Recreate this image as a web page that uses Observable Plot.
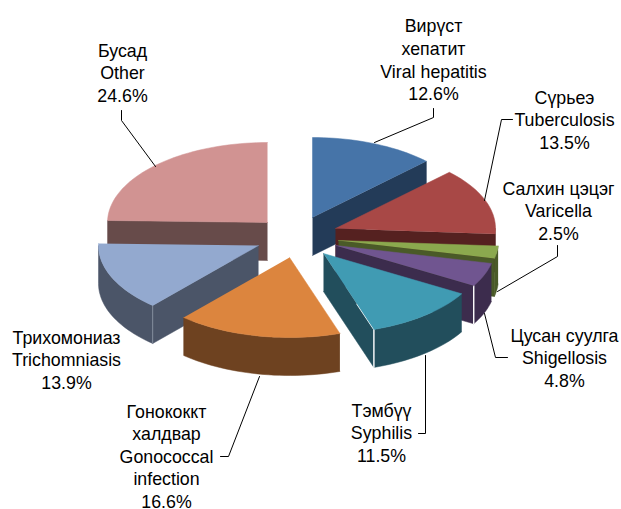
<!DOCTYPE html>
<html><head><meta charset="utf-8">
<style>html,body{margin:0;padding:0;background:#fff}svg{display:block}</style>
<script src="https://cdn.jsdelivr.net/npm/d3@7"></script>
<script src="https://cdn.jsdelivr.net/npm/@observablehq/plot@0.6"></script>
</head><body>
<script>
// Data, clockwise from 12 o'clock
const shares = [12.6,13.5,2.5,4.8,11.5,16.6,13.9,24.6];
const labels = [
  "Вирүст\nхепатит\nViral hepatitis\n12.6%",
  "Сүрьеэ\nTuberculosis\n13.5%",
  "Салхин цэцэг\nVaricella\n2.5%",
  "Цусан суулга\nShigellosis\n4.8%",
  "Тэмбүү\nSyphilis\n11.5%",
  "Гонококкт\nхалдвар\nGonococcal\ninfection\n16.6%",
  "Трихомониаз\nTrichomniasis\n13.9%",
  "Бусад\nOther\n24.6%"
];
const topColors  = ["#4674A8","#A84846","#8BA94E","#705590","#409BB3","#DC853E","#93A9CF","#D19392"];
const wallColors = ["#233B58","#552120","#4A5A28","#3C2C4D","#224E5C","#6E4220","#4B5568","#674B4A"];

// Layout of the exploded 3-D pie
const rx = 160, ry = 80, depth = 38;
const apexX = [312,335,338,335,323,289,258,267];
const apexY = [217,228,240,245,253,257,245,222];
const labelX = [433,564,558,564,381,166,66,122];
const labelY = [58.5,118.5,209.5,356.5,431.5,455,358.5,71.5];
const leaders = [
  [[433,108],[433,117],[374,142]],
  [[512,119],[501,119],[484,200]],
  [[557,245],[557,256],[497,291]],
  [[484,313],[495,357],[507,357]],
  [[418,433],[425,433],[425,355]],
  [[220,456],[228,456],[259,376]],
  [[121,110],[121,120],[155,166]]
];
const drawOrder = [7,0,6,1,2,3,4,5];

let acc = 0;
const spans = shares.map(s => { const a = acc; acc += s; return [a*3.6, acc*3.6]; });
const rad = d => d*Math.PI/180;
const onRim = (i,a,dz=0) => ({x: apexX[i]+rx*Math.sin(rad(a)), y: apexY[i]-ry*Math.cos(rad(a))+dz});
const apex = (i,dz=0) => ({x: apexX[i], y: apexY[i]+dz});
const arc = (i,a0,a1,dz=0) => {
  const n = Math.max(2, Math.ceil(Math.abs(a1-a0)/2));
  return d3.range(n+1).map(k => onRim(i,a0+(a1-a0)*k/n,dz));
};
const fillPoly = (pts,fill) => Plot.line(pts,{x:"x",y:"y",fill,stroke:fill,strokeWidth:0.5,curve:"linear"});

const marks = [];
for (const i of drawOrder) {
  const [a0,a1] = spans[i];
  const wall = wallColors[i];
  // radial faces that look toward the viewer
  const face = a => [apex(i),onRim(i,a),onRim(i,a,depth),apex(i,depth)];
  if (a1 < 180) marks.push(fillPoly(face(a1),wall));
  if (a0 > 180) marks.push(fillPoly(face(a0),wall));
  // outer rim, front half only
  const r0 = Math.max(a0,90), r1 = Math.min(a1,270);
  if (r1 > r0) marks.push(fillPoly([...arc(i,r0,r1),...arc(i,r1,r0,depth)],wall));
  // seams on the slices where they are visible
  if (i === 3 || i === 4) {
    const c = onRim(i,a1), m = {x:(apexX[i]+c.x*2)/3, y:(apexY[i]+c.y*2)/3};
    marks.push(Plot.line(i===4?[m,c,onRim(i,a1,depth)]:[c,onRim(i,a1,depth)],{x:"x",y:"y",stroke:"#fff",strokeWidth:1.4}));
  }
  if (i === 6) {
    const c = onRim(i,a0);
    marks.push(Plot.line([c,onRim(i,a0,depth)],{x:"x",y:"y",stroke:"#8a93a5",strokeWidth:0.8}));
  }
  // top
  marks.push(fillPoly([apex(i),...arc(i,a0,a1)],topColors[i]));
}
for (const l of leaders) {
  marks.push(Plot.line(l.map(([x,y])=>({x,y})),{x:"x",y:"y",stroke:"#000",strokeWidth:1,curve:"linear"}));
}
marks.push(Plot.text(labels.map((t,i)=>({t,x:labelX[i],y:labelY[i]})),{
  x:"x",y:"y",text:"t",fontSize:17.8,lineHeight:1.27,textAnchor:"middle",lineAnchor:"middle",fill:"#000"
}));

const chart = Plot.plot({
  width:621,height:509,margin:0,
  x:{domain:[0,621],range:[0,621],axis:null},
  y:{domain:[0,509],range:[0,509],axis:null},
  style:{fontFamily:"'Liberation Sans',Arial,sans-serif",background:"#fff"},
  marks
});
document.body.appendChild(chart);
</script>
</body></html>
